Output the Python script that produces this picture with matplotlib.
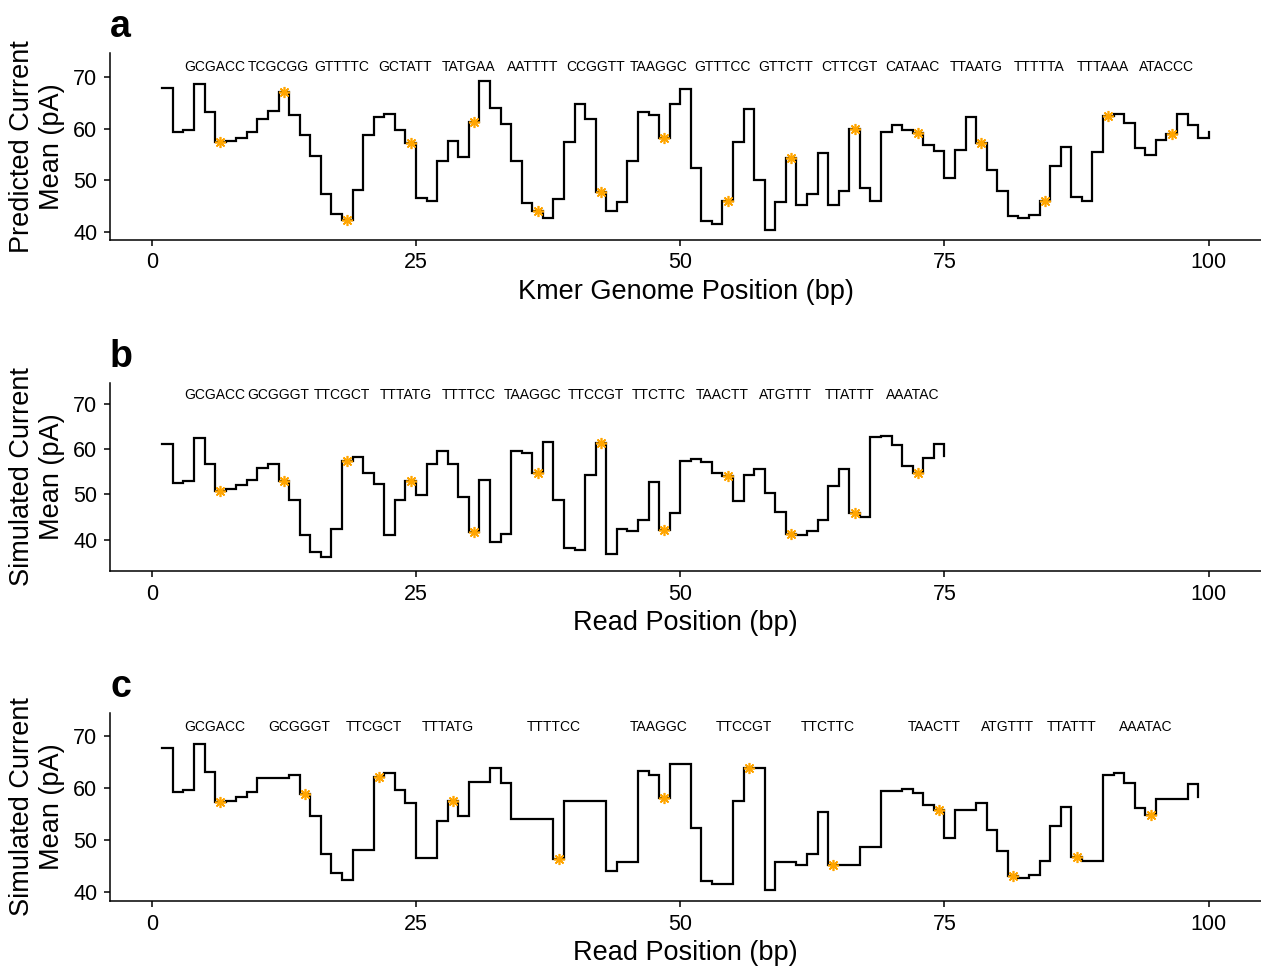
import matplotlib
matplotlib.use("Agg")
import matplotlib.pyplot as plt

plt.rcParams['font.family'] = ['Liberation Sans', 'DejaVu Sans']

# ---------------- data ----------------
a_values = [67.8, 59.3, 59.7, 68.5, 63.1, 57.4, 57.6, 58.2, 59.3, 61.8,
            63.4, 67.0, 62.6, 58.8, 54.7, 47.4, 43.6, 42.4, 48.2, 58.8,
            62.2, 62.9, 59.7, 57.2, 46.6, 46.0, 53.8, 57.6, 54.6, 61.3,
            69.2, 64.0, 60.9, 53.8, 45.6, 44.1, 42.7, 46.4, 57.4, 64.7,
            61.8, 47.8, 44.0, 45.9, 53.8, 63.2, 62.6, 58.2, 64.7, 67.7,
            52.3, 42.2, 41.6, 46.1, 57.4, 63.8, 50.1, 40.5, 45.8, 54.3,
            45.2, 47.3, 55.3, 45.2, 48.0, 59.9, 48.6, 46.0, 59.4, 60.7,
            59.7, 59.2, 56.8, 55.6, 50.4, 55.8, 62.2, 57.2, 52.0, 48.0,
            43.1, 42.8, 43.3, 46.0, 52.7, 56.4, 46.8, 46.0, 55.4, 62.5,
            62.9, 61.1, 56.2, 54.8, 57.8, 58.9, 62.8, 60.6, 58.2, 59.3]
a_kmers = ["GCGACC", "TCGCGG", "GTTTTC", "GCTATT", "TATGAA", "AATTTT",
           "CCGGTT", "TAAGGC", "GTTTCC", "GTTCTT", "CTTCGT", "CATAAC",
           "TTAATG", "TTTTTA", "TTTAAA", "ATACCC"]
a_kmer_pos = [6, 12, 18, 24, 30, 36, 42, 48, 54, 60, 66, 72, 78, 84, 90, 96]

b_values = [61.1, 52.5, 53.0, 62.5, 56.7, 50.8, 51.1, 52.0, 53.2, 55.8,
            56.7, 52.9, 48.7, 41.1, 37.3, 36.2, 42.3, 57.4, 58.2, 54.7,
            52.3, 41.0, 48.7, 52.9, 49.8, 56.8, 59.7, 56.7, 49.5, 41.6,
            53.3, 39.4, 41.3, 59.7, 59.2, 54.7, 61.6, 48.7, 38.2, 37.7,
            54.3, 61.3, 36.8, 42.3, 41.9, 44.4, 52.8, 42.2, 45.9, 57.4,
            57.9, 57.2, 54.7, 54.0, 48.5, 54.3, 55.6, 50.3, 46.2, 41.3,
            41.0, 41.8, 44.4, 51.8, 55.7, 45.8, 44.9, 62.6, 63.0, 61.0,
            56.3, 54.7, 58.1, 61.1, 58.6]
read_kmers = ["GCGACC", "GCGGGT", "TTCGCT", "TTTATG", "TTTTCC", "TAAGGC",
              "TTCCGT", "TTCTTC", "TAACTT", "ATGTTT", "TTATTT", "AAATAC"]
b_kmer_pos = [6, 12, 18, 24, 30, 36, 42, 48, 54, 60, 66, 72]

c_values = [67.8, 59.3, 59.7, 68.5, 63.1, 57.4, 57.6, 58.3, 59.3, 61.9,
            61.9, 61.9, 62.6, 58.9, 54.7, 47.4, 43.6, 42.4, 48.2, 48.2,
            62.2, 63.0, 59.7, 57.2, 46.6, 46.6, 53.8, 57.6, 54.6, 61.2,
            61.2, 64.0, 61.0, 54.0, 54.0, 54.0, 54.0, 46.4, 57.5, 57.5,
            57.5, 57.5, 44.0, 45.9, 45.9, 63.3, 62.6, 58.2, 64.7, 64.7,
            52.3, 42.2, 41.6, 41.6, 57.5, 63.9, 63.9, 40.5, 45.8, 45.8,
            45.2, 47.4, 55.4, 45.3, 45.3, 45.3, 48.7, 48.7, 59.5, 59.5,
            59.8, 59.1, 56.8, 55.9, 50.4, 55.8, 55.8, 57.2, 52.0, 48.0,
            43.2, 42.8, 43.3, 46.0, 52.8, 56.4, 46.8, 46.0, 46.0, 62.6,
            63.0, 61.1, 56.3, 54.9, 57.9, 57.9, 57.9, 60.8, 58.4]
c_kmer_pos = [6, 14, 21, 28, 38, 48, 56, 64, 74, 81, 87, 94]

x_ticks = [0, 25, 50, 75, 100]
y_ticks = [40, 50, 60, 70]

# ---------------- figure ----------------
W, H = 1261, 967
fig = plt.figure(figsize=(W / 100, H / 100), dpi=100)

panels = [
    dict(values=a_values, kmers=a_kmers, pos=a_kmer_pos, top=53, bottom=240,
         ylim=(38.5, 74.57), letter="a", ylabel="Predicted Current\nMean (pA)",
         xlabel="Kmer Genome Position (bp)"),
    dict(values=b_values, kmers=read_kmers, pos=b_kmer_pos, top=383, bottom=571,
         ylim=(33.06, 74.65), letter="b", ylabel="Simulated Current\nMean (pA)",
         xlabel="Read Position (bp)"),
    dict(values=c_values, kmers=read_kmers, pos=c_kmer_pos, top=713, bottom=901,
         ylim=(38.3, 74.5), letter="c", ylabel="Simulated Current\nMean (pA)",
         xlabel="Read Position (bp)"),
]

left_px, right_px = 110, 1261
for p in panels:
    ax = fig.add_axes([left_px / W, 1 - p["bottom"] / H,
                       (right_px - left_px) / W, (p["bottom"] - p["top"]) / H])
    vals = p["values"]
    xs = list(range(1, len(vals) + 1))
    ax.step(xs, vals, where="post", color="black", lw=1.6, solid_joinstyle="miter")
    sx = [k + 0.5 for k in p["pos"]]
    sy = [vals[k - 1] for k in p["pos"]]
    ax.plot(sx, sy, ls="none", marker=(8, 2, 0), ms=8, mec="#FFA500",
            mfc="#FFA500", mew=1.2, zorder=3)
    for k, lab in zip(p["pos"], p["kmers"]):
        ax.text(k, 71.9, lab, ha="center", va="center", fontsize=10, color="black")
    ax.set_xlim(-3.95, 104.95)
    ax.set_ylim(*p["ylim"])
    ax.set_xticks(x_ticks)
    ax.set_yticks(y_ticks)
    for s in ["top", "right"]:
        ax.spines[s].set_visible(False)
    for s in ["left", "bottom"]:
        ax.spines[s].set_linewidth(1.1)
    ax.tick_params(labelsize=15.5, length=4, width=1.1, pad=5, colors="black")
    cy = (p["top"] + p["bottom"]) / 2
    fig.text(37 / W, 1 - cy / H, p["ylabel"], rotation=90, ha="center",
             va="center", fontsize=19.5, multialignment="center")
    fig.text(685.5 / W, 1 - (p["bottom"] + 52) / H, p["xlabel"], ha="center",
             va="center", fontsize=19.5)
    fig.text(110 / W, 1 - (p["top"] - 16) / H, p["letter"], ha="left",
             va="baseline", fontsize=27, fontweight="bold")

fig.savefig("out.png", dpi=100)
